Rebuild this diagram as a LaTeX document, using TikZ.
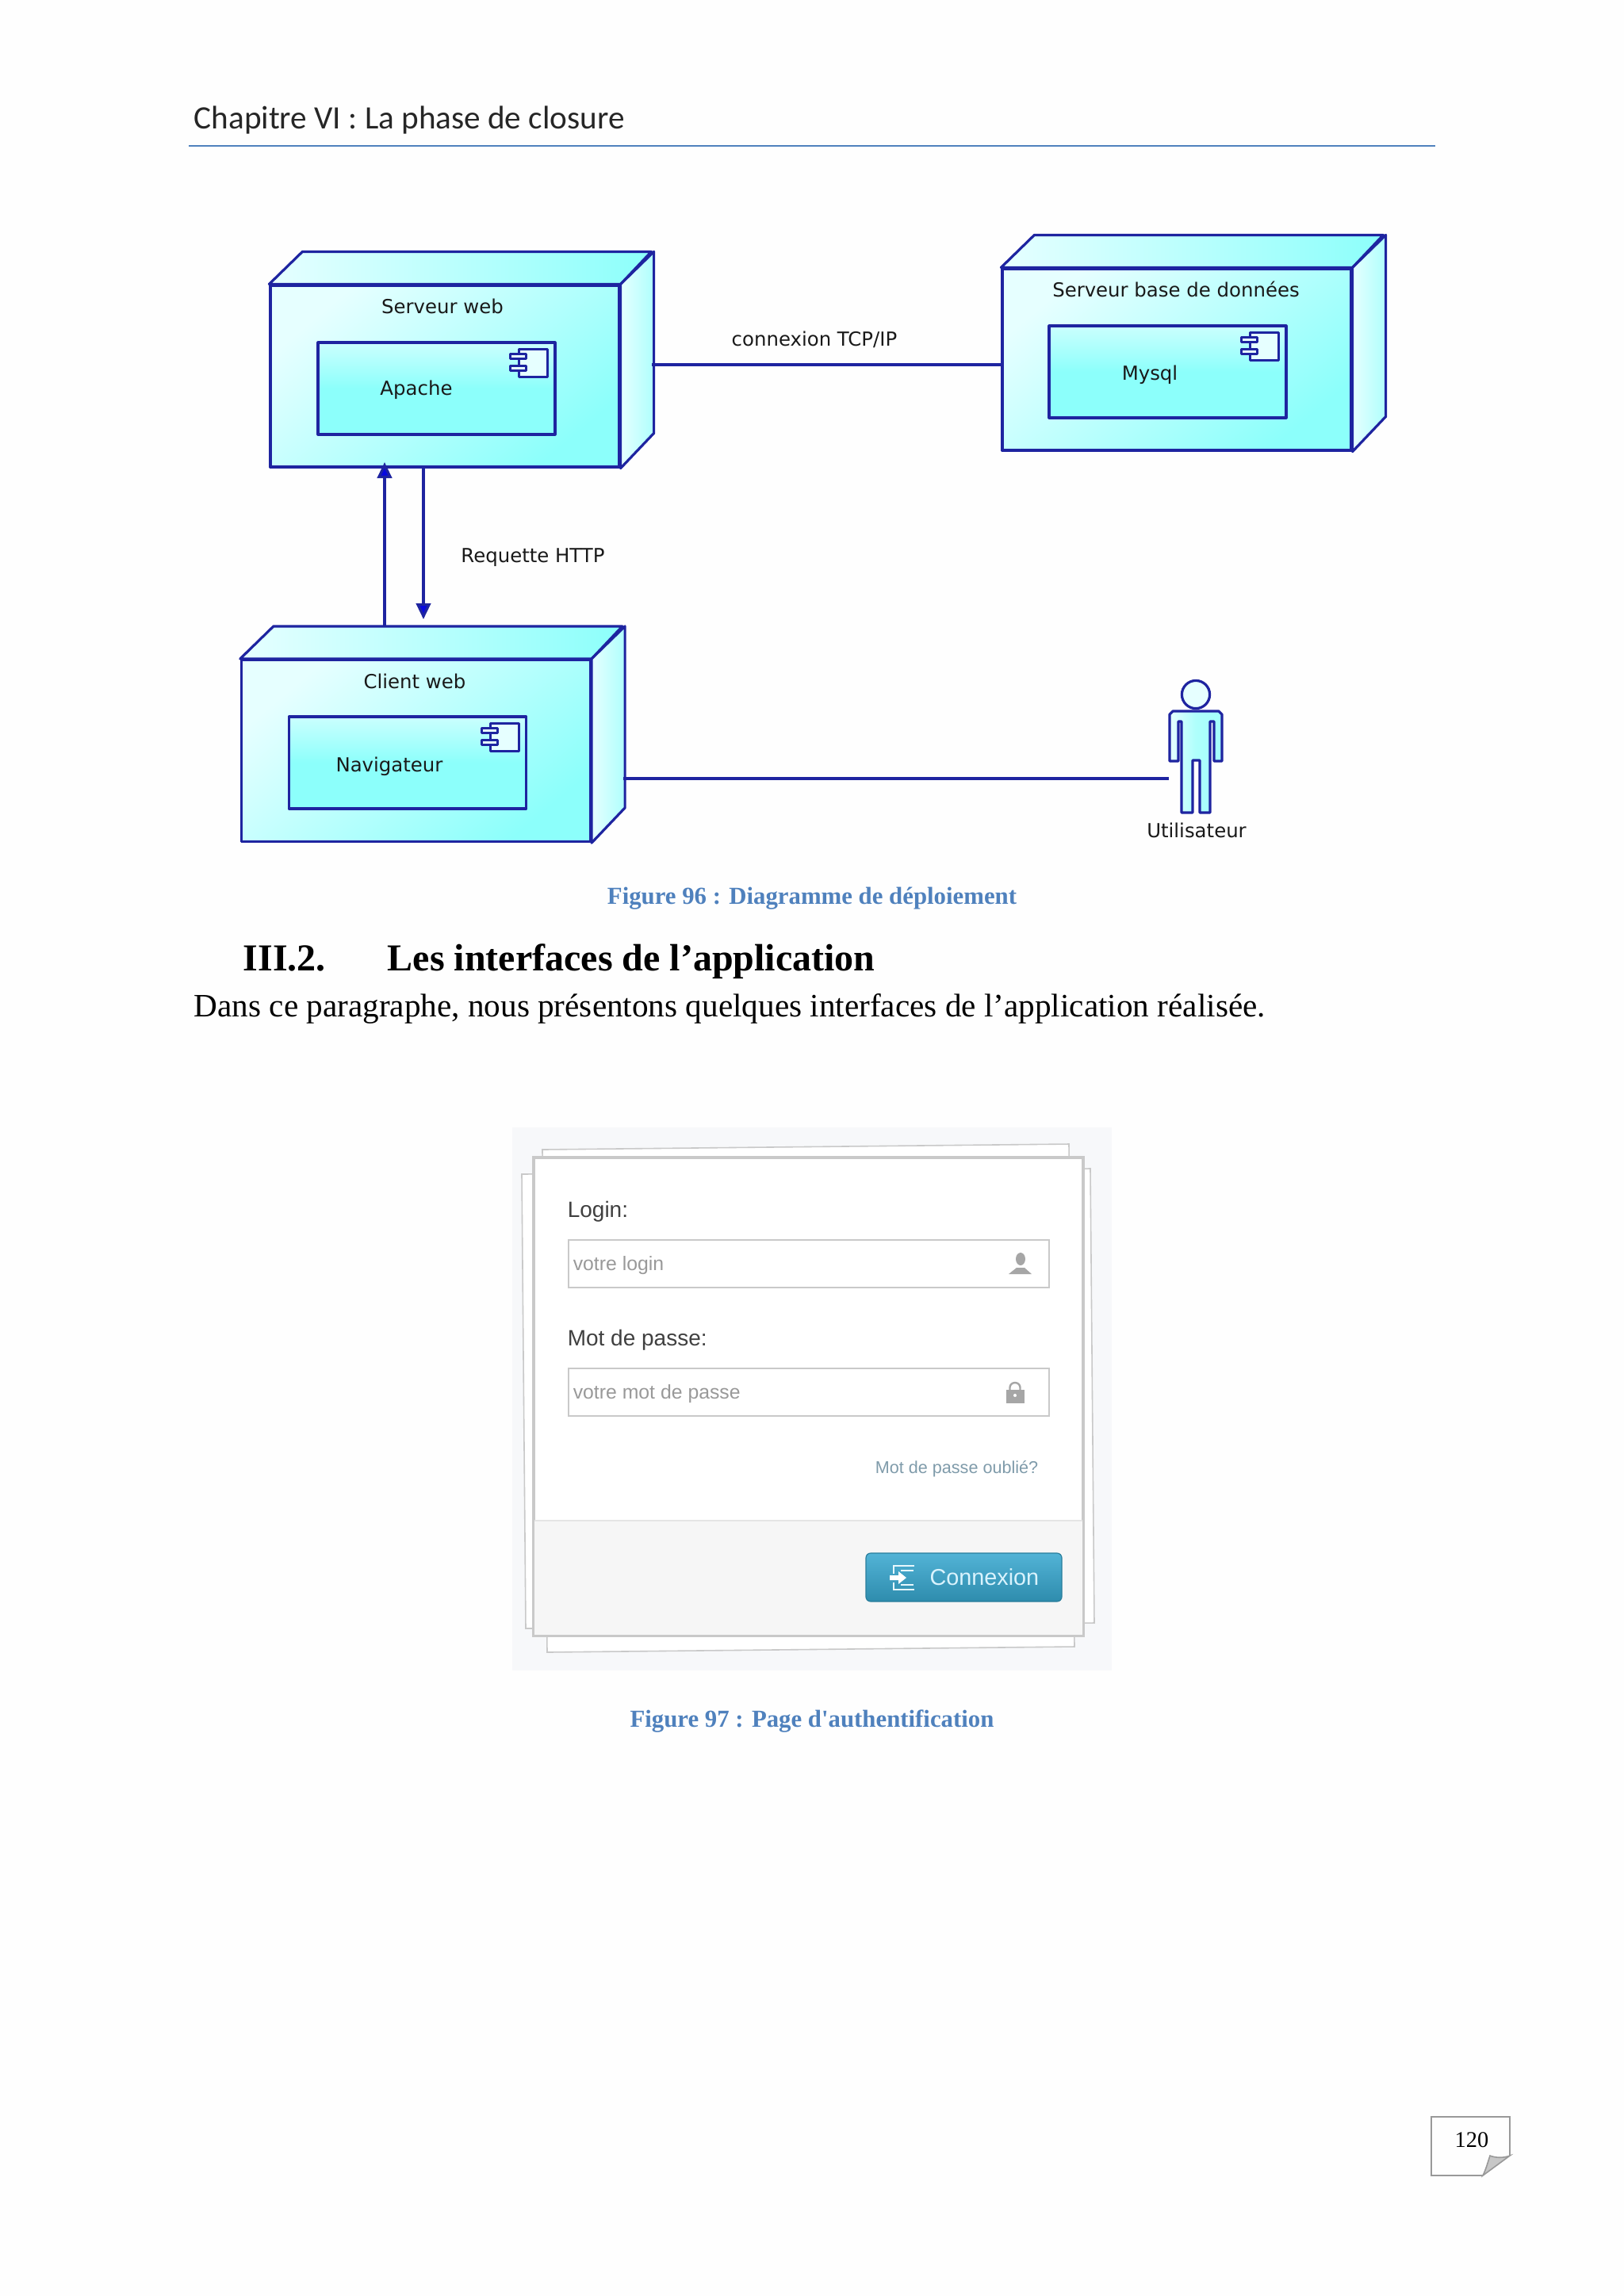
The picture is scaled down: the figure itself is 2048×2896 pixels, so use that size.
\documentclass[tikz,border=0pt]{standalone}
\usepackage{fontspec}
\setmainfont{Liberation Serif}
\setsansfont{Liberation Sans}
\newfontfamily\headfont{Carlito}
\newfontfamily\umlfont{DejaVu Sans}
\newfontfamily\capfont{Liberation Serif}
\usetikzlibrary{positioning, arrows.meta, shapes.geometric}

\definecolor{umlline}{HTML}{1E24A0}
\definecolor{umltip}{HTML}{0808E0}
\definecolor{umllight}{HTML}{E6FFFF}
\definecolor{umlcyan}{HTML}{8CFFFB}
\definecolor{capblue}{HTML}{4F81BD}
\definecolor{loginbg}{HTML}{F7F8FA}
\definecolor{logingrey}{HTML}{C9C9C9}
\definecolor{forgotgrey}{HTML}{7F9BAA}
\definecolor{btntop}{HTML}{52B3D6}
\definecolor{btnbot}{HTML}{2E8CAD}

\tikzset{
	umlface/.style={draw=umlline,line width=0.8pt,line join=round},
	frontface/.style={umlface,rectangle,minimum width=110pt,minimum height=57.25pt,inner sep=0pt,
		top color=umllight,bottom color=umlcyan,shading angle=40},
	innerface/.style={umlface,rectangle,minimum width=74.75pt,minimum height=29pt,inner sep=0pt,
		top color=umllight!70!umlcyan,bottom color=umlcyan,middle color=umlcyan},
	umltext/.style={font=\umlfont\fontsize{6.1}{7.5}\selectfont,text=black!90,inner sep=0pt},
	umlconn/.style={draw=umlline,line width=0.8pt},
	umlarrow/.style={umlconn,-{Triangle[length=5pt,width=4.6pt,fill=umltip]}},
	capnode/.style={font=\capfont\bfseries\fontsize{7.7}{10}\selectfont,text=capblue,inner sep=0pt},
	sheet/.style={draw=logingrey,line width=0.4pt,fill=white},
	fieldbox/.style={rectangle,draw=logingrey,line width=0.5pt,fill=white,minimum width=151.5pt,minimum height=15pt,inner sep=0pt},
	loginlabel/.style={font=\sffamily\fontsize{7}{8}\selectfont,text=black!75,inner sep=0pt,anchor=west},
	hint/.style={font=\sffamily\fontsize{6.2}{7}\selectfont,text=black!40,inner sep=0pt,anchor=west},
}

\newcommand{\devicefaces}[1]{
	\shade[umlface,left color=umllight,right color=umlcyan] (#1.north west) -- ++(42,-41) -- ++(440,0) -- (#1.north east) -- cycle;
	\shade[umlface,left color=umllight,right color=umlcyan!70!white] (#1.north east) -- ++(42,-41) -- ++(0,229) -- (#1.south east) -- cycle;
}
\newcommand{\compicon}[1]{
	\draw[umlface,fill=umllight] ([shift={(-47,10)}]#1.north east) rectangle ++(36,35);
	\draw[umlface,fill=umllight] ([shift={(-58,16)}]#1.north east) rectangle ++(20,6);
	\draw[umlface,fill=umllight] ([shift={(-58,31)}]#1.north east) rectangle ++(20,6);
}

\begin{document}
\begin{tikzpicture}[x=0.25pt,y=-0.25pt]
	\useasboundingbox (0,0) rectangle (2048,2896);
	\fill[white!99.5!black] (0,0) rectangle (2048,2896);

	% page head
	\node[font=\headfont\fontsize{10.3}{13}\selectfont,text=black!85,inner sep=0pt,anchor=west] (chapter) at (244,151) {Chapitre VI : La phase de closure};
	\coordinate (ruleleft) at (238,184);
	\coordinate (ruleright) at (1810,184);
	\draw[capblue,line width=0.4pt] (ruleleft) -- (ruleright);

	% deployment nodes
	\node[frontface] (web) at (561,474.5) {};
	\node[frontface] (db) at (1484,453.5) {};
	\node[frontface] (client) at (524.5,947) {};
	\devicefaces{web}
	\devicefaces{db}
	\devicefaces{client}
	\node[frontface] at (web) {};
	\node[frontface] at (db) {};
	\node[frontface] at (client) {};

	\node[innerface] (apache) at (550.5,490) {};
	\node[innerface] (mysql) at (1472.5,469) {};
	\node[innerface] (browser) at (514,962) {};
	\compicon{apache}
	\compicon{mysql}
	\compicon{browser}

	\node[umltext] (weblabel) at (558,386) {Serveur web};
	\node[umltext] (dblabel) at (1483,365) {Serveur base de données};
	\node[umltext] (clientlabel) at (523,859) {Client web};
	\node[umltext] (apachelabel) at (525,492) {Apache};
	\node[umltext] (mysqllabel) at (1450,473) {Mysql};
	\node[umltext] (browserlabel) at (491,967) {Navigateur};

	\coordinate (webside) at (822,460);
	\coordinate (clientside) at (786,982);
	\coordinate (clienttop1) at (485,790);
	\coordinate (webtip1) at (485,583);
	\coordinate (webbot2) at (534,589);
	\coordinate (clienttip2) at (534,781);
	\coordinate (actorarm) at (1474,982);

	\draw[umlconn] (webside) -- (db.west |- webside);
	\draw[umlconn] (clientside) -- (actorarm);
	\draw[umlarrow] (clienttop1) -- (webtip1);
	\draw[umlarrow] (webbot2) -- (clienttip2);

	\node[umltext] (tcplabel) at (1027,428) {connexion TCP/IP};
	\node[umltext] (httplabel) at (672,703) {Requette HTTP};

	% actor
	\draw[umlface,left color=umllight,right color=umlcyan!80!white,middle color=umlcyan!70!white]
		(1479,897) -- (1537,897) -- (1541,901) -- (1541,960) -- (1531,960) -- (1531,910) -- (1526,910) -- (1526,1025) -- (1513,1025)
		-- (1513,959) -- (1504,959) -- (1504,1025) -- (1490,1025) -- (1490,910) -- (1486,910) -- (1486,960) -- (1475,960) -- (1475,901) -- cycle;
	\node[circle,draw=umlline,line width=0.8pt,fill=umllight,minimum size=8.8pt,inner sep=0pt] (head) at (1508,876) {};
	\node[umltext] (actorlabel) at (1509,1047) {Utilisateur};

	\node[capnode] (cap96) at (1024,1133) {Figure 96 : Diagramme de déploiement};
	\node[font=\bfseries\fontsize{12}{14}\selectfont,inner sep=0pt,anchor=base west] (secnum) at (306,1224) {III.2.};
	\node[font=\bfseries\fontsize{12}{14}\selectfont,inner sep=0pt,anchor=base west] (sectitle) at (488,1224) {Les interfaces de l’application};
	\node[font=\fontsize{10.3}{12}\selectfont,inner sep=0pt,anchor=west] (para) at (244,1272) {Dans ce paragraphe, nous présentons quelques interfaces de l’application réalisée.};

	% login screen
	\fill[loginbg] (646,1422) rectangle (1402,2107);
	\draw[sheet] (684,1450) -- (1348,1443) -- (1355,2077) -- (690,2084) -- cycle;
	\draw[sheet] (658,1481) -- (1375,1474) -- (1380,2047) -- (663,2054) -- cycle;
	\node[rectangle,draw=logingrey,line width=0.8pt,fill=white,minimum width=173.25pt,minimum height=150.75pt,inner sep=0pt] (card) at (1019.5,1761.5) {};
	\fill[black!3.5] (674,1918) rectangle (1365,2062);
	\draw[black!10,line width=0.3pt] (674,1918) -- (1365,1918);

	\node[loginlabel] (loginlab) at (715,1528) {Login:};
	\node[fieldbox] (loginfield) at (1019.5,1594) {};
	\node[hint] (loginhint) at (722,1596) {votre login};
	\node[loginlabel] (passlab) at (715,1690) {Mot de passe:};
	\node[fieldbox] (passfield) at (1019.5,1756) {};
	\node[hint] (passhint) at (722,1758) {votre mot de passe};

	\fill[black!35] (1287,1588) ellipse (6 and 8);
	\fill[black!35] (1272,1607) -- (1282,1599) -- (1292,1599) -- (1301,1607) -- cycle;
	\draw[black!35,line width=0.6pt] (1273.5,1754) -- (1273.5,1750) arc (180:360:6.5 and 6) -- (1286.5,1754);
	\fill[black!35] (1269,1753) rectangle (1292,1770);
	\fill[white] (1280,1760) circle (2);

	\node[font=\sffamily\fontsize{5.4}{7}\selectfont,text=forgotgrey,inner sep=0pt,anchor=east] (forgot) at (1310,1853) {Mot de passe oublié?};

	\node[rectangle,rounded corners=1.5pt,top color=btntop,bottom color=btnbot,draw=btnbot!90!black,line width=0.3pt,minimum width=61.75pt,minimum height=15.25pt,inner sep=0pt] (button) at (1215.5,1989.5) {};
	\node[font=\sffamily\fontsize{7.2}{8}\selectfont,text=cyan!15!white,inner sep=0pt,anchor=east] (btnlabel) at (1311,1989) {Connexion};
	\draw[cyan!10!white,line width=0.7pt] (1127,1985) -- (1127,1975) -- (1153,1975) (1127,1996) -- (1127,2005) -- (1153,2005) (1152,1981) -- (1136,1981) (1136,1999) -- (1152,1999);
	\fill[white] (1122,1987) -- (1133,1987) -- (1133,1982) -- (1143,1990) -- (1133,1998) -- (1133,1993) -- (1122,1993) -- cycle;

	\node[capnode] (cap97) at (1024,2171) {Figure 97 : Page d'authentification};

	% page number
	\node[rectangle,inner sep=0pt] (pagenum) at (1856,2699) {\fontsize{7.1}{10}\selectfont 120};
	\coordinate (foldtop) at (1904,2719);
	\coordinate (foldbot) at (1870,2744);
	\draw[black!40,line width=0.4pt] (foldbot) -- (1805,2744) -- (1805,2670) -- (1904,2670) -- (foldtop);
	\draw[black!40,line width=0.4pt,fill=black!22] (foldbot) .. controls (1874,2736) and (1876,2728) .. (1879,2719) .. controls (1887,2722) and (1896,2722) .. (foldtop) -- cycle;
\end{tikzpicture}
\end{document}
